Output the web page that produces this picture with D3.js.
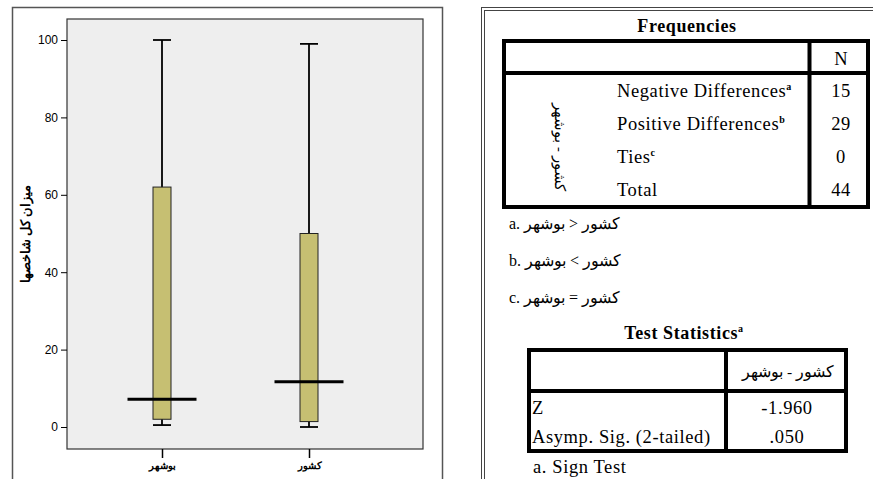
<!DOCTYPE html>
<html>
<head>
<meta charset="utf-8">
<script src="https://cdn.jsdelivr.net/npm/d3@7"></script>
<style>
  body { margin: 0; background: #fff; }
  text { fill: #000; }
</style>
</head>
<body>
<div id="chart"></div>
<script>
// box plot values
const groups = ['بوشهر', 'کشور']
const whiskerHigh = [100, 99]
const boxHigh = [62, 50]
const boxLow = [2, 1.4]
const whiskerLow = [0.5, 0]
const medianLine = [7.2, 11.7]
const yTicks = [0, 20, 40, 60, 80, 100]
const yTitle = 'میزان کل شاخصها'

// frequencies table
const freqTitle = 'Frequencies'
const pairLabel = 'کشور - بوشهر'
const freqRows = ['Negative Differences', 'Positive Differences', 'Ties', 'Total']
const freqSup = ['a', 'b', 'c', '']
const freqN = [15, 29, 0, 44]
const freqNotes = ['a. کشور < بوشهر', 'b. کشور > بوشهر', 'c. کشور = بوشهر']

// test statistics table
const testTitle = 'Test Statistics'
const testRows = ['Z', 'Asymp. Sig. (2-tailed)']
const testValues = ['-1.960', '.050']
const testNote = 'a. Sign Test'

const W = 873
const H = 479
const serif = '"Liberation Serif", "Times New Roman", serif'
const sans = '"Liberation Sans", Arial, sans-serif'
// the reference tables look slightly wide, so spread the letters a bit
const spread = 0.6

const svg = d3.select('#chart').append('svg')
  .attr('width', W)
  .attr('height', H)

// ---------- left panel: box plot ----------
svg.append('rect')
  .attr('x', 12.5).attr('y', 7.5)
  .attr('width', 430).attr('height', 480)
  .attr('fill', '#fff').attr('stroke', '#555').attr('stroke-width', 1.5)

const plot = { left: 67, right: 423, top: 19, bottom: 449 }

svg.append('rect')
  .attr('x', plot.left).attr('y', plot.top)
  .attr('width', plot.right - plot.left).attr('height', plot.bottom - plot.top)
  .attr('fill', '#eeeeee').attr('stroke', '#333').attr('stroke-width', 1.2)

const y = d3.scaleLinear().domain([0, 100]).range([427, 40])
const x = d3.scalePoint().domain(groups).range([162, 309])

const yAxis = svg.append('g')
  .attr('transform', `translate(${plot.left},0)`)
  .call(d3.axisLeft(y).tickValues(yTicks).tickSize(6).tickPadding(3))
yAxis.select('.domain').remove()
yAxis.selectAll('text').attr('font-family', sans).attr('font-size', 12).attr('fill', '#000')
yAxis.selectAll('line').attr('stroke', '#000')

const xAxis = svg.append('g')
  .attr('transform', `translate(0,${plot.bottom})`)
  .call(d3.axisBottom(x).tickSize(9).tickPadding(4))
xAxis.select('.domain').remove()
xAxis.selectAll('text').attr('font-family', sans).attr('font-size', 10).attr('font-weight', 'bold').attr('fill', '#000')
xAxis.selectAll('line').attr('stroke', '#000').attr('stroke-width', 1.5)

svg.append('text')
  .attr('transform', 'translate(30,234) rotate(-90)')
  .attr('text-anchor', 'middle')
  .attr('font-family', sans).attr('font-size', 12.5).attr('font-weight', 'bold')
  .text(yTitle)

const boxW = 18
const capW = 18
const medW = 69

const box = svg.append('g').selectAll('g')
  .data(groups)
  .join('g')

// whisker
box.append('line')
  .attr('x1', d => x(d)).attr('x2', d => x(d))
  .attr('y1', (d, i) => y(whiskerHigh[i])).attr('y2', (d, i) => y(whiskerLow[i]))
  .attr('stroke', '#000').attr('stroke-width', 1.8)

// caps
box.append('line')
  .attr('x1', d => x(d) - capW / 2).attr('x2', d => x(d) + capW / 2)
  .attr('y1', (d, i) => y(whiskerHigh[i])).attr('y2', (d, i) => y(whiskerHigh[i]))
  .attr('stroke', '#000').attr('stroke-width', 1.8)
box.append('line')
  .attr('x1', d => x(d) - capW / 2).attr('x2', d => x(d) + capW / 2)
  .attr('y1', (d, i) => y(whiskerLow[i])).attr('y2', (d, i) => y(whiskerLow[i]))
  .attr('stroke', '#000').attr('stroke-width', 1.8)

box.append('rect')
  .attr('x', d => x(d) - boxW / 2)
  .attr('y', (d, i) => y(boxHigh[i]))
  .attr('width', boxW)
  .attr('height', (d, i) => y(boxLow[i]) - y(boxHigh[i]))
  .attr('fill', '#c6bf72').attr('stroke', '#222').attr('stroke-width', 1)

box.append('line')
  .attr('x1', d => x(d) - medW / 2).attr('x2', d => x(d) + medW / 2)
  .attr('y1', (d, i) => y(medianLine[i])).attr('y2', (d, i) => y(medianLine[i]))
  .attr('stroke', '#000').attr('stroke-width', 3)

// ---------- right panel: tables ----------
svg.append('rect')
  .attr('x', 481.5).attr('y', 7.5)
  .attr('width', 420).attr('height', 500)
  .attr('fill', '#fff').attr('stroke', '#444').attr('stroke-width', 1)
svg.append('rect')
  .attr('x', 484.5).attr('y', 10.5)
  .attr('width', 420).attr('height', 500)
  .attr('fill', 'none').attr('stroke', '#444').attr('stroke-width', 1)

svg.append('text')
  .attr('x', 687).attr('y', 32)
  .attr('text-anchor', 'middle')
  .attr('font-family', serif).attr('font-size', 18).attr('font-weight', 'bold')
  .attr('letter-spacing', spread)
  .text(freqTitle)

// frequencies table frame
const ft = { left: 504, right: 868, top: 41, head: 73, bottom: 207, col: 809.5 }
const thick = 4
svg.append('rect')
  .attr('x', ft.left).attr('y', ft.top)
  .attr('width', ft.right - ft.left).attr('height', ft.bottom - ft.top)
  .attr('fill', 'none').attr('stroke', '#000').attr('stroke-width', thick)
svg.append('line')
  .attr('x1', ft.left).attr('x2', ft.right)
  .attr('y1', ft.head).attr('y2', ft.head)
  .attr('stroke', '#000').attr('stroke-width', thick)
svg.append('line')
  .attr('x1', ft.col).attr('x2', ft.col)
  .attr('y1', ft.top).attr('y2', ft.bottom)
  .attr('stroke', '#000').attr('stroke-width', thick)

svg.append('text')
  .attr('x', 841).attr('y', 65)
  .attr('text-anchor', 'middle')
  .attr('font-family', serif).attr('font-size', 18.5)
  .text('N')

const rowY = d3.scalePoint().domain(freqRows).range([97, 196])

const fRow = svg.append('g').selectAll('g')
  .data(freqRows)
  .join('g')

const fLabel = fRow.append('text')
  .attr('x', 617).attr('y', d => rowY(d))
  .attr('font-family', serif).attr('font-size', 18.5)
  .attr('letter-spacing', spread)
fLabel.append('tspan').text(d => d)
fLabel.append('tspan')
  .attr('font-size', 10).attr('font-weight', 'bold').attr('dy', -7)
  .text((d, i) => freqSup[i])

fRow.append('text')
  .attr('x', 841).attr('y', d => rowY(d))
  .attr('text-anchor', 'middle')
  .attr('font-family', serif).attr('font-size', 18.5)
  .attr('letter-spacing', spread)
  .text((d, i) => freqN[i])

svg.append('text')
  .attr('transform', 'translate(555,147) rotate(90)')
  .attr('text-anchor', 'middle')
  .attr('font-family', serif).attr('font-size', 14.5)
  .text(pairLabel)

svg.append('g').selectAll('text')
  .data(freqNotes)
  .join('text')
  .attr('x', 509)
  .attr('y', (d, i) => 229 + i * 37)
  .attr('font-family', serif).attr('font-size', 16)
  .text(d => d)

// test statistics
const tTitle = svg.append('text')
  .attr('x', 684).attr('y', 339)
  .attr('text-anchor', 'middle')
  .attr('font-family', serif).attr('font-size', 18).attr('font-weight', 'bold')
  .attr('letter-spacing', spread)
tTitle.append('tspan').text(testTitle)
tTitle.append('tspan').attr('font-size', 10).attr('dy', -7).text('a')

const tt = { left: 529, right: 846, top: 350, head: 391, bottom: 451, col: 726 }
svg.append('rect')
  .attr('x', tt.left).attr('y', tt.top)
  .attr('width', tt.right - tt.left).attr('height', tt.bottom - tt.top)
  .attr('fill', 'none').attr('stroke', '#000').attr('stroke-width', thick)
svg.append('line')
  .attr('x1', tt.left).attr('x2', tt.right)
  .attr('y1', tt.head).attr('y2', tt.head)
  .attr('stroke', '#000').attr('stroke-width', thick)
svg.append('line')
  .attr('x1', tt.col).attr('x2', tt.col)
  .attr('y1', tt.top).attr('y2', tt.bottom)
  .attr('stroke', '#000').attr('stroke-width', thick)

svg.append('text')
  .attr('x', 788).attr('y', 377)
  .attr('text-anchor', 'middle')
  .attr('font-family', serif).attr('font-size', 15.5)
  .text(pairLabel)

const testY = d3.scalePoint().domain(testRows).range([414, 443])

svg.append('g').selectAll('text')
  .data(testRows)
  .join('text')
  .attr('x', 532).attr('y', d => testY(d))
  .attr('font-family', serif).attr('font-size', 18.5)
  .attr('letter-spacing', spread)
  .text(d => d)

svg.append('g').selectAll('text')
  .data(testRows)
  .join('text')
  .attr('x', 787).attr('y', d => testY(d))
  .attr('text-anchor', 'middle')
  .attr('font-family', serif).attr('font-size', 18.5)
  .attr('letter-spacing', spread)
  .text((d, i) => testValues[i])

svg.append('text')
  .attr('x', 533).attr('y', 473)
  .attr('font-family', serif).attr('font-size', 18.5)
  .attr('letter-spacing', spread)
  .text(testNote)
</script>
</body>
</html>
